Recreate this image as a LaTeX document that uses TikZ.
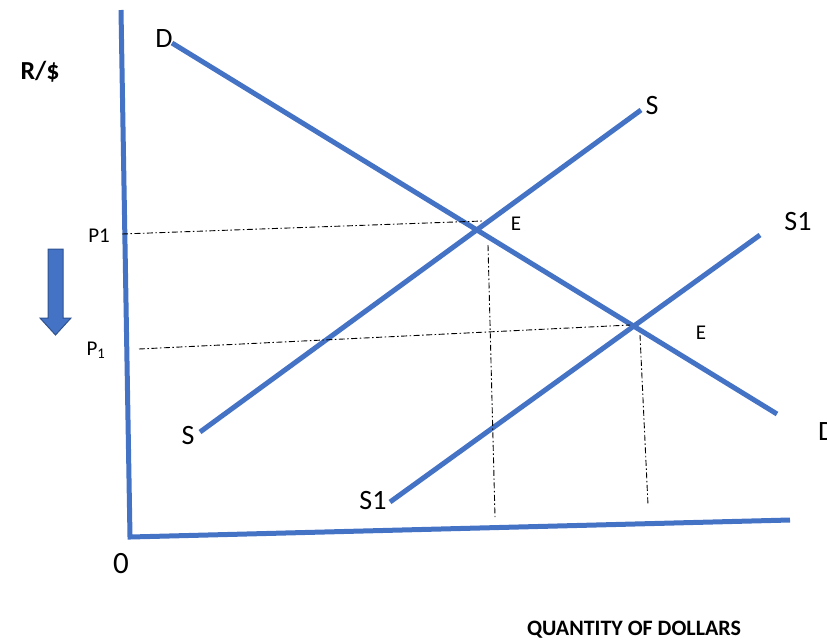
\documentclass[tikz,border=0pt]{standalone}
\usepackage{fontspec}
\setmainfont{Carlito}
\definecolor{axblue}{HTML}{4472C4}
\definecolor{axdark}{HTML}{2F528F}
\begin{document}
\begin{tikzpicture}[x=1pt,y=-1pt,
  curve/.style={line width=5pt,draw=axblue},
  guide/.style={line width=0.9pt,dash pattern=on 6pt off 2.5pt on 1.5pt off 2.5pt},
  lbl/.style={font=\fontsize{28}{32}\selectfont,inner sep=0pt},
  elbl/.style={font=\fontsize{21}{24}\selectfont,inner sep=0pt},
  plbl/.style={font=\fontsize{21}{24}\selectfont,inner sep=0pt},
  blbl/.style={font=\bfseries\fontsize{26}{30}\selectfont,inner sep=0pt}]
\useasboundingbox (0,0) rectangle (827,641);
% axes
\coordinate (ytop) at (121,10);
\coordinate (orig) at (130,537);
\coordinate (xend) at (790,520);
\draw[curve] (ytop) -- (orig) -- (xend);
% curves
\coordinate (d1) at (172,43);
\coordinate (d2) at (777,414);
\coordinate (s1) at (200,432);
\coordinate (s2) at (641,110);
\coordinate (t1) at (390,502);
\coordinate (t2) at (760,235);
\draw[curve] (d1) -- (d2);
\draw[curve] (s1) -- (s2);
\draw[curve] (t1) -- (t2);
% guides
\coordinate (g1a) at (122,234); \coordinate (g1b) at (482,221);
\coordinate (g2a) at (139,349); \coordinate (g2b) at (630,325);
\coordinate (g3a) at (488,245); \coordinate (g3b) at (495,517);
\coordinate (g4a) at (640,335); \coordinate (g4b) at (648,505);
\draw[guide] (g1a) -- (g1b);
\draw[guide] (g2a) -- (g2b);
\draw[guide] (g3a) -- (g3b);
\draw[guide] (g4a) -- (g4b);
% labels
\node[lbl] (lD1) at (164,39) {D};
\node[lbl,anchor=west] (lD2) at (818,432) {D};
\node[lbl] (lS1) at (652,106) {S};
\node[lbl] (lS2) at (188,436) {S};
\node[lbl] (lT1) at (798,222) {S1};
\node[lbl] (lT2) at (373,500) {S1};
\node[elbl] (lE1) at (516,224) {E};
\node[elbl] (lE2) at (701,333) {E};
\node[plbl] (lP1) at (99,236) {P1};
\node[plbl] (lP2) at (96,350) {P$_{\mathrm{1}}$};
\node[blbl] (lR) at (40,72) {R/\$};
\node[font=\fontsize{31}{34}\selectfont,inner sep=0pt] (l0) at (121,564) {0};
\node[font=\bfseries\fontsize{22}{26}\selectfont,inner sep=0pt] (lQ) at (634,630) {QUANTITY OF DOLLARS};
% arrow
\filldraw[fill=axblue,draw=axdark,line width=1pt] (48,249) -- (63,249) -- (63,318) -- (71,318) -- (55.5,335) -- (40,318) -- (48,318) -- cycle;
\end{tikzpicture}
\end{document}
